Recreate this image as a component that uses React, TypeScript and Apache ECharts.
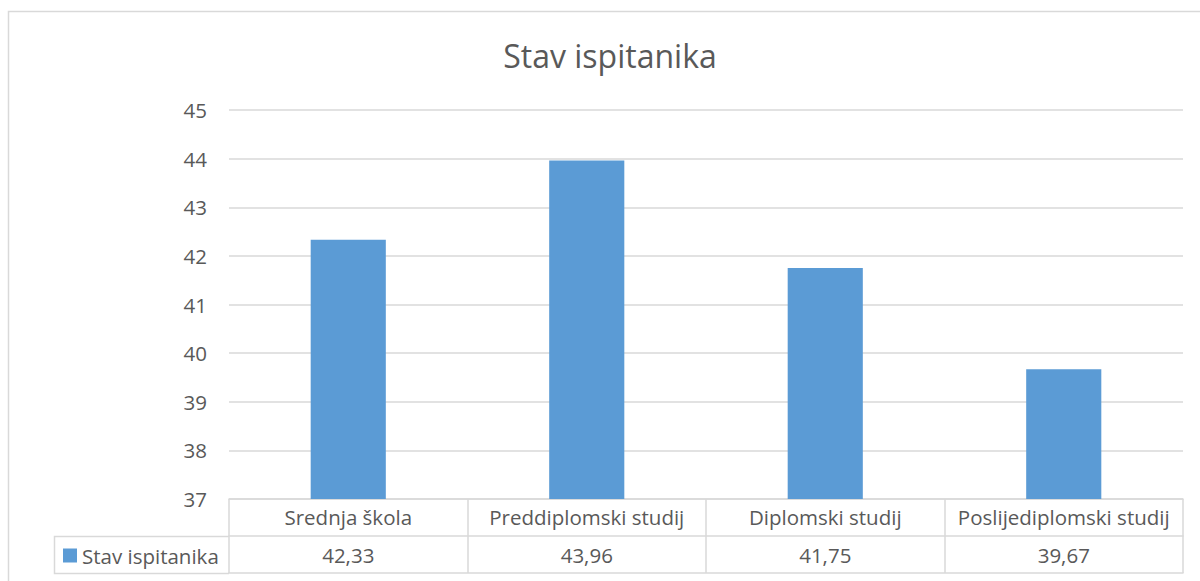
import React, { useEffect, useRef } from "react";
import * as echarts from "echarts";

const categories = ["Srednja škola", "Preddiplomski studij", "Diplomski studij", "Poslijediplomski studij"];
const values = [42.33, 43.96, 41.75, 39.67];
const seriesName = "Stav ispitanika";
const titleText = "Stav ispitanika";
const yMin = 37;
const yMax = 45;
const yInterval = 1;

const FONT = "Open Sans";
const TEXT = "#595959";
const LINE = "#d9d9d9";
const BAR = "#5B9BD5";
const FS = 20.5;

const fmt = (v: number) => v.toFixed(2).replace(".", ",");

export default function App() {
  const ref = useRef<HTMLDivElement>(null);
  useEffect(() => {
    if (!ref.current) return;
    const chart = echarts.init(ref.current, null, { renderer: "svg" });
    const gridLeft = 229;
    const gridRight = 1200 - 1183;
    const gridTop = 110;
    const gridBottom = 581 - 499;
    chart.setOption({
      animation: false,
      textStyle: { fontFamily: FONT },
      title: {
        text: titleText,
        left: 605,
        top: 34,
        textAlign: "center",
        textStyle: { fontFamily: FONT, fontSize: 32, fontWeight: "normal", color: TEXT },
      },
      legend: {
        data: [seriesName],
        left: 63,
        top: 545,
        icon: "rect",
        itemWidth: 14,
        itemHeight: 14,
        itemGap: 5,
        textStyle: { fontFamily: FONT, fontSize: FS, color: TEXT, padding: [0, 0, 0, 0] },
        padding: 0,
      },
      grid: { left: gridLeft, right: gridRight, top: gridTop, bottom: gridBottom, containLabel: false },
      xAxis: [
        {
          type: "category",
          data: categories,
          position: "bottom",
          axisLine: { show: true, lineStyle: { color: LINE, width: 1.5 } },
          axisTick: { show: true, alignWithLabel: false, length: 74, lineStyle: { color: LINE, width: 1.5 } },
          axisLabel: {
            interval: 0,
            margin: 7,
            color: TEXT,
            fontFamily: FONT,
            fontSize: FS,
            lineHeight: 22,
          },
        },
        {
          type: "category",
          data: categories,
          position: "bottom",
          offset: 37,
          axisLine: { show: true, lineStyle: { color: LINE, width: 1.5 } },
          axisTick: { show: false },
          axisLabel: {
            interval: 0,
            margin: 8,
            color: TEXT,
            fontFamily: FONT,
            fontSize: FS,
            lineHeight: 22,
            formatter: (_v: string, i: number) => fmt(values[i]),
          },
        },
        {
          type: "category",
          data: categories,
          position: "bottom",
          offset: 74,
          axisLine: { show: true, lineStyle: { color: LINE, width: 1.5 } },
          axisTick: { show: false },
          axisLabel: { show: false },
        },
      ],
      yAxis: {
        type: "value",
        min: yMin,
        max: yMax,
        interval: yInterval,
        axisLine: { show: false },
        axisTick: { show: false },
        axisLabel: { color: TEXT, fontFamily: FONT, fontSize: FS, margin: 22 },
        splitLine: { lineStyle: { color: LINE, width: 1.5 } },
      },
      series: [
        {
          name: seriesName,
          type: "bar",
          xAxisIndex: 0,
          data: values,
          barWidth: "31.5%",
          itemStyle: { color: BAR },
        },
      ],
      graphic: [
        {
          type: "rect",
          silent: true,
          shape: { x: 8.5, y: 11.5, width: 1300, height: 700 },
          style: { fill: "none", stroke: LINE, lineWidth: 1.5 },
        },
        {
          type: "polyline",
          silent: true,
          shape: { points: [[gridLeft, 536.5], [54.5, 536.5], [54.5, 573.5], [gridLeft, 573.5]] },
          style: { fill: "none", stroke: LINE, lineWidth: 1.5 },
        },
      ],
    });
    return () => chart.dispose();
  }, []);
  return <div ref={ref} style={{ position: "absolute", left: 0, top: 0, width: 1200, height: 581 }} />;
}
